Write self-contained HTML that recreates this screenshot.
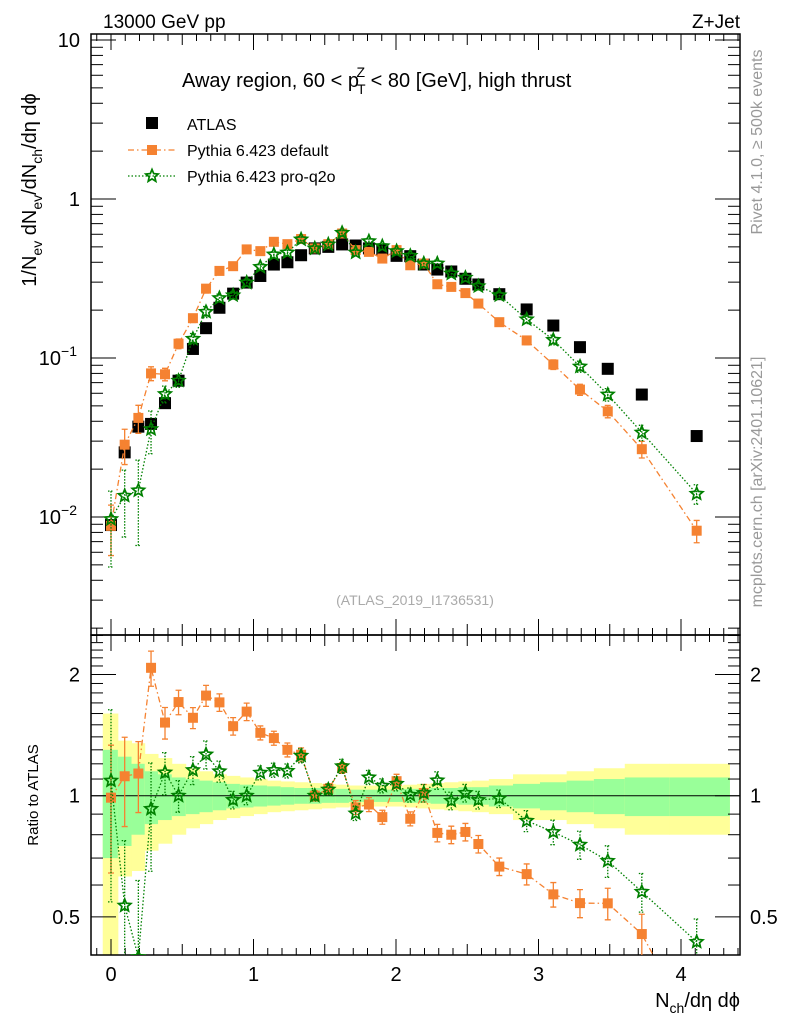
<!DOCTYPE html>
<html><head><meta charset="utf-8">
<style>
html,body{margin:0;padding:0;background:#fff;width:786px;height:1024px;overflow:hidden;}
svg{display:block;font-family:"Liberation Sans",Arial,sans-serif;}
</style></head>
<body>
<svg id="chart" width="786" height="1024" viewBox="0 0 786 1024" xmlns="http://www.w3.org/2000/svg">
<g id="bands"></g>
<g id="grid"></g>
<g id="series"></g>
<text x="103" y="28" font-size="19">13000 GeV pp</text>
<text x="740" y="28" font-size="19" text-anchor="end">Z+Jet</text>
<text x="182" y="87" font-size="20">Away region, 60 &lt; p<tspan font-size="14" dx="-2" dy="7">T</tspan><tspan font-size="14" dx="-9" dy="-17">Z</tspan><tspan dy="10"> &lt; 80 [GeV], high thrust</tspan></text>
<g>
<rect x="146" y="117" width="12" height="12" fill="#000"/>
<text x="187" y="130" font-size="16">ATLAS</text>
<line x1="128" y1="150" x2="175" y2="150" stroke="#f58231" stroke-width="1.3" stroke-dasharray="6,3,1.5,3"/>
<rect x="147" y="145" width="10" height="10" fill="#f58231"/>
<text x="187" y="156" font-size="16">Pythia 6.423 default</text>
<line x1="128" y1="176" x2="175" y2="176" stroke="#008000" stroke-width="1.3" stroke-dasharray="1.5,2"/>
<text x="187" y="182" font-size="16">Pythia 6.423 pro-q2o</text>
</g>
<text x="415" y="605" font-size="14" fill="#aaa" text-anchor="middle">(ATLAS_2019_I1736531)</text>
<text transform="translate(762,142) rotate(-90)" font-size="16" fill="#999" text-anchor="middle">Rivet 4.1.0, ≥ 500k events</text>
<text transform="translate(762,482) rotate(-90)" font-size="16" fill="#999" text-anchor="middle">mcplots.cern.ch [arXiv:2401.10621]</text>
<text transform="translate(36,190) rotate(-90)" font-size="20" text-anchor="middle">1/N<tspan font-size="14" dy="6">ev</tspan><tspan dy="-6"> dN</tspan><tspan font-size="14" dy="6">ev</tspan><tspan dy="-6">/dN</tspan><tspan font-size="14" dy="6">ch</tspan><tspan dy="-6">/dη dϕ</tspan></text>
<text transform="translate(38,795) rotate(-90)" font-size="15" text-anchor="middle">Ratio to ATLAS</text>
<text x="740" y="1007" font-size="20" text-anchor="end">N<tspan font-size="14" dy="6">ch</tspan><tspan dy="-6">/dη dϕ</tspan></text>
</svg>
<script>
const xVals=[0,0.096,0.192,0.281,0.379,0.474,0.575,0.667,0.761,0.857,0.952,1.048,1.143,1.238,1.334,1.430,1.525,1.622,1.717,1.81,1.904,2.004,2.1,2.195,2.290,2.388,2.487,2.578,2.725,2.917,3.104,3.291,3.486,3.725,4.11];
const atlas=[0.0089,0.0255,0.037,0.0385,0.052,0.072,0.114,0.154,0.207,0.254,0.298,0.328,0.387,0.40,0.443,0.489,0.50,0.518,0.51,0.489,0.477,0.439,0.437,0.387,0.36,0.35,0.315,0.29,0.252,0.202,0.16,0.117,0.0855,0.0589,0.0323];
const pyDefault=[0.0088,0.0285,0.042,0.080,0.079,0.123,0.178,0.273,0.353,0.378,0.482,0.47,0.538,0.52,0.56,0.489,0.52,0.607,0.477,0.465,0.422,0.477,0.383,0.393,0.291,0.28,0.256,0.22,0.168,0.129,0.091,0.0633,0.0462,0.0267,0.0082];
const pyProq2o=[0.0097,0.0136,0.0147,0.0357,0.0594,0.072,0.132,0.195,0.238,0.248,0.298,0.374,0.448,0.461,0.557,0.489,0.518,0.613,0.461,0.543,0.505,0.47,0.439,0.393,0.393,0.34,0.32,0.283,0.248,0.175,0.130,0.0884,0.0589,0.034,0.014];
const errDefault=[0.35,0.25,0.2,0.1,0.09,0.07,0.06,0.06,0.05,0.05,0.05,0.04,0.04,0.04,0.04,0.03,0.03,0.03,0.04,0.04,0.04,0.04,0.04,0.05,0.05,0.05,0.05,0.05,0.05,0.06,0.07,0.08,0.09,0.12,0.16];
const errProq2o=[0.5,0.45,0.55,0.3,0.12,0.09,0.08,0.08,0.06,0.05,0.05,0.04,0.04,0.04,0.04,0.03,0.03,0.04,0.04,0.04,0.04,0.04,0.04,0.05,0.05,0.05,0.05,0.05,0.05,0.06,0.07,0.08,0.09,0.11,0.14];
const bandOuter=[0.6,0.37,0.35,0.27,0.24,0.2,0.17,0.15,0.13,0.12,0.11,0.1,0.09,0.085,0.08,0.075,0.07,0.065,0.06,0.06,0.06,0.06,0.065,0.07,0.075,0.08,0.085,0.09,0.1,0.13,0.13,0.15,0.17,0.2,0.2];
const bandInner=[0.3,0.25,0.2,0.15,0.13,0.11,0.1,0.09,0.08,0.07,0.065,0.06,0.055,0.05,0.045,0.045,0.04,0.04,0.035,0.035,0.035,0.035,0.04,0.04,0.045,0.045,0.05,0.05,0.06,0.07,0.08,0.09,0.1,0.11,0.11];
const xTicks=[0,1,2,3,4];
const mainTicks=[{v:10,l:"10"},{v:1,l:"1"},{v:0.1,l:"10",e:"−1"},{v:0.01,l:"10",e:"−2"}];
const ratioTicks=[{v:2,l:"2"},{v:1,l:"1"},{v:0.5,l:"0.5"}];

const NS="http://www.w3.org/2000/svg";
const L=91,R=740,T=34,MB=635,RB=955;
const X=v=>111+v*142.5;
const Y=v=>199-159*Math.log10(v);
const YR=v=>795.7-121.2*Math.log2(v);
function mk(tag,attrs,parent){const e=document.createElementNS(NS,tag);for(const k in attrs)e.setAttribute(k,attrs[k]);parent.appendChild(e);return e;}
const grid=document.getElementById('grid'),series=document.getElementById('series'),bands=document.getElementById('bands');

const rClipTop=635,rClipBot=955;
for(let i=0;i<xVals.length;i++){
  const x0=i==0?xVals[0]-0.058:(xVals[i-1]+xVals[i])/2;
  const x1=i==xVals.length-1?4.34:(xVals[i]+xVals[i+1])/2;
  const yo1=Math.max(rClipTop,YR(1+bandOuter[i])),yo2=Math.min(rClipBot,YR(Math.max(0.01,1-bandOuter[i])));
  const b=mk('rect',{x:X(x0),y:yo1,width:X(x1)-X(x0)+0.5,height:yo2-yo1,fill:'#ffff99'},bands);
  
  
  const yi1=YR(1+bandInner[i]),yi2=Math.min(rClipBot,YR(1-bandInner[i]));
  const g=mk('rect',{x:X(x0),y:yi1,width:X(x1)-X(x0)+0.5,height:yi2-yi1,fill:'#99ff99'},bands);
  
  
}
let ln=mk('line',{x1:L,x2:R,y1:YR(1),y2:YR(1),stroke:'#000','stroke-width':1},grid);



let f1=mk('rect',{x:L,y:T,width:R-L,height:MB-T,fill:'none',stroke:'#000','stroke-width':1.5},grid);


let f2=mk('rect',{x:L,y:MB,width:R-L,height:RB-MB,fill:'none',stroke:'#000','stroke-width':1.5},grid);



for(let k=-1;k<=44;k++){
  const v=k/10,px=X(v); if(px<L||px>R)continue;
  const len=k%10==0?16:(k%5==0?11:7);
  [[T,1],[MB,-1],[MB,1],[RB,-1]].forEach(([y,d])=>{const t=mk('line',{x1:px,x2:px,y1:y,y2:y+d*len,stroke:'#000','stroke-width':1},grid);});
}
xTicks.forEach(v=>{const t=mk('text',{x:X(v),y:981,'font-size':20,'text-anchor':'middle'},grid);t.textContent=v;});

for(let d=-3;d<=1;d++){for(let m=1;m<=9;m++){const v=m*Math.pow(10,d),py=Y(v);if(py<T||py>MB)continue;const len=m==1?25:12;
  [[L,1],[R,-1]].forEach(([x,s])=>{const t=mk('line',{x1:x,x2:x+s*len,y1:py,y2:py,stroke:'#000','stroke-width':1},grid);});}}
mainTicks.forEach(t=>{const e=mk('text',{x:t.e?77:80,y:Y(t.v)+7,'font-size':20,'text-anchor':'end'},grid);e.textContent=t.l;if(t.e){const s=mk('tspan',{'font-size':14,dy:-9},e);s.textContent=t.e;}});

for(let k=4;k<=25;k++){const v=k/10,py=YR(v);if(py<MB||py>RB)continue;const len=(v==0.5||v==1||v==2)?25:12;
  [[L,1],[R,-1]].forEach(([x,s])=>{const t=mk('line',{x1:x,x2:x+s*len,y1:py,y2:py,stroke:'#000','stroke-width':1},grid);});}
ratioTicks.forEach(t=>{const a=mk('text',{x:80,y:YR(t.v)+7,'font-size':20,'text-anchor':'end'},grid);a.textContent=t.l;
  const b=mk('text',{x:750,y:YR(t.v)+7,'font-size':20},grid);b.textContent=t.l;});

const defs=mk('defs',{},document.getElementById('chart'));
const c1=mk('clipPath',{id:'cm'},defs);mk('rect',{x:L,y:T,width:R-L,height:MB-T},c1);
const c2=mk('clipPath',{id:'cr'},defs);mk('rect',{x:L,y:MB,width:R-L,height:RB-MB},c2);
const gm=mk('g',{'clip-path':'url(#cm)'},series);
const gr=mk('g',{'clip-path':'url(#cr)'},series);

function star(cx,cy,r){let p=[];for(let i=0;i<10;i++){const a=-Math.PI/2+i*Math.PI/5,rr=i%2?r*0.45:r;p.push((cx+rr*Math.cos(a)).toFixed(1)+','+(cy+rr*Math.sin(a)).toFixed(1));}return p.join(' ');}

function drawModel(g,vals,errs,yf,color,dash,marker,name,ratio){
  const pts=vals.map((v,i)=>[X(xVals[i]),yf(ratio?v/atlas[i]:v)]);
  const pl=mk('polyline',{points:pts.map(p=>p.join(',')).join(' '),fill:'none',stroke:color,'stroke-width':1.3,'stroke-dasharray':dash},g);
  
  
  vals.forEach((v,i)=>{
    const base=ratio?v/atlas[i]:v;
    const px=X(xVals[i]);
    const y1=yf(base*(1+errs[i])),y2=yf(Math.max(base*(1-errs[i]),1e-6));
    const eb=mk('path',{d:`M${px},${y1}V${y2}M${px-3},${y1}h6M${px-3},${y2}h6`,stroke:color,'stroke-width':1.3,fill:'none','stroke-dasharray':marker=='star'?'1.5,1.5':'none'},g);
    
    
    let m;
    if(marker=='sq'){m=mk('rect',{x:px-5,y:yf(base)-5,width:10,height:10,fill:color},g);}
    else{m=mk('polygon',{points:star(px,yf(base),6.5),fill:'none',stroke:color,'stroke-width':1.7},g);}
    
    
  });
}
atlas.forEach((v,i)=>{const r=mk('rect',{x:X(xVals[i])-6,y:Y(v)-6,width:12,height:12,fill:'#000'},gm);
  
  });
drawModel(gm,pyDefault,errDefault,Y,'#f58231','6,3,1.5,3','sq','pythia-default',false);
drawModel(gm,pyProq2o,errProq2o,Y,'#008000','1.5,2','star','pythia-proq2o',false);
drawModel(gr,pyDefault,errDefault,YR,'#f58231','6,3,1.5,3','sq','ratio-pythia-default',true);
drawModel(gr,pyProq2o,errProq2o,YR,'#008000','1.5,2','star','ratio-pythia-proq2o',true);
const ls=mk('polygon',{points:star(152,176,6.5),fill:'none',stroke:'#008000','stroke-width':1.7},document.getElementById('chart'));


</script>
</body></html>
